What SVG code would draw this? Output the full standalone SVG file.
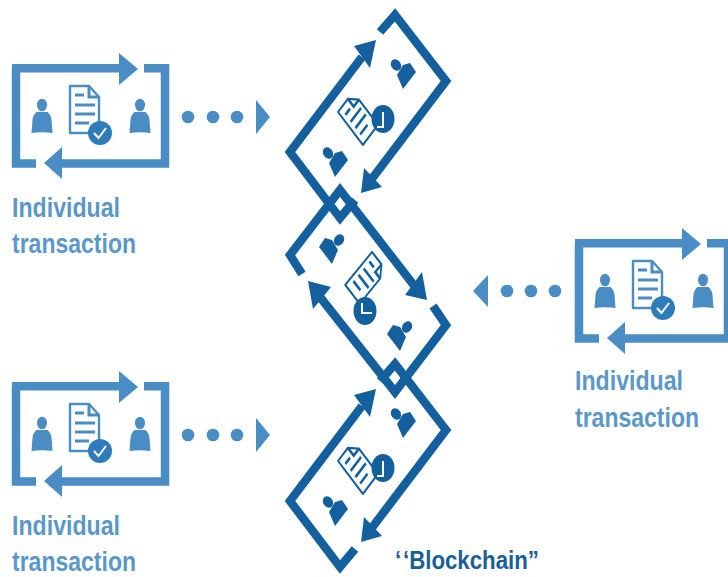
<svg xmlns="http://www.w3.org/2000/svg" width="728" height="577" viewBox="0 0 728 577">
<style>
.lf{fill:#4a8cc4}.df{fill:#14609f}
.ls{fill:none;stroke:#4a8cc4;stroke-width:8.5;stroke-linejoin:miter}
.ds{fill:none;stroke:#14609f;stroke-width:8.5;stroke-linejoin:miter}
.dl{fill:#fff;stroke-width:2.4;stroke-linejoin:round}
.ln{fill:none;stroke-width:3}
.lab{font-family:"Liberation Sans",Arial,sans-serif;font-weight:700;font-size:27px;fill:#5b97c9}
</style>
<defs>
<g id="person"><ellipse cx="0" cy="-28" rx="5" ry="6.300"/><path d="M-10.500,0 L-9.500,-13 Q-9,-18 -5.500,-21 H5.500 Q9,-18 9.500,-13 L10.500,0 Q0,-1.500 -10.500,0Z"/></g>
<g id="pt"><ellipse cx="0" cy="0" rx="4.800" ry="6" transform="rotate(-35)"/><path d="M1,10 L7,0 L14,-2 L20,7 L7,24Z"/></g>
<g id="doc"><path class="dl" d="M70,86 H89 L99,97 V133 H70Z"/><path class="ln" d="M89,86 V97 H99 M75,95 H84 M75,105 H95 M75,114 H95 M75,123 H89"/></g>
<g id="tx">
<path class="ls" d="M12,68.300 H125 M144,68.300 H165 V163.500 H55 M36,163.500 H16 V68.300"/>
<path class="lf" d="M119,53 L138,69 L119,85Z M62,147 L44,163 L62,179Z"/>
<g class="lf"><use href="#person" x="42" y="133"/><use href="#person" x="140" y="133"/></g>
<g stroke="#4a8cc4"><use href="#doc"/></g>
<circle cx="100" cy="133" r="12" fill="#2f7cba"/>
<path d="M94,133 L98.500,138 L106,128" fill="none" stroke="#fff" stroke-width="2"/>
</g>
<g id="blk">
<path class="ds" d="M380,32 L395,15 L446,81 L371,180 M362,57 L290,152 L340,218 L355,200"/>
<path class="df" d="M376,40 L354,46 L370,68Z M361,193 L364,168 L382,187Z"/>
<g class="df"><use href="#pt" x="396" y="65"/><use href="#pt" x="328" y="153"/></g>
<g stroke="#14609f"><use href="#doc" transform="matrix(.52 -.69 .53 .7 338 112) translate(-70 -86)"/></g>
<ellipse cx="383" cy="119" rx="11.500" ry="14" class="df"/>
<path d="M383,112 V127 H377" fill="none" stroke="#fff" stroke-width="2"/>
</g>
</defs>
<g id="connectors">
<g id="dots-top" class="lf"><circle cx="188" cy="117" r="6.300"/><circle cx="213" cy="117" r="6.300"/><circle cx="237" cy="117" r="6.300"/><path d="M256,100 L270,117 L256,134Z"/></g>
<g id="dots-bottom" class="lf"><circle cx="188" cy="435" r="6.300"/><circle cx="213" cy="435" r="6.300"/><circle cx="237" cy="435" r="6.300"/><path d="M256,418 L270,435 L256,452Z"/></g>
<g id="dots-right" class="lf"><circle cx="507" cy="291" r="6.300"/><circle cx="531" cy="291" r="6.300"/><circle cx="555" cy="291" r="6.300"/><path d="M488,275 L473,291 L488,307Z"/></g>
</g>
<g id="tx-top"><use href="#tx"/><text class="lab" x="12" y="217" textLength="108" lengthAdjust="spacingAndGlyphs">Individual</text><text class="lab" x="12" y="253" textLength="124" lengthAdjust="spacingAndGlyphs">transaction</text></g>
<g id="tx-bottom"><use href="#tx" y="318"/><text class="lab" x="12" y="535" textLength="108" lengthAdjust="spacingAndGlyphs">Individual</text><text class="lab" x="12" y="571" textLength="124" lengthAdjust="spacingAndGlyphs">transaction</text></g>
<g id="tx-right"><use href="#tx" x="563" y="175"/><text class="lab" x="575" y="390" textLength="108" lengthAdjust="spacingAndGlyphs">Individual</text><text class="lab" x="575" y="427" textLength="124" lengthAdjust="spacingAndGlyphs">transaction</text></g>
<g id="block-top"><use href="#blk"/></g>
<g id="block-middle">
<path class="ds" d="M302,274 L290,255 L340,190 L416,288 M433,306 L446,325 L395,392 L320,297"/>
<path class="df" d="M427,300 L405,295 L422,272Z M308,281 L313,309 L331,287Z"/>
<g class="df"><use href="#pt" transform="translate(339 240) scale(-1 1)"/><use href="#pt" transform="translate(407 327) scale(-1 1)"/></g>
<g stroke="#14609f"><use href="#doc" transform="matrix(.5 .65 -.57 .7 372 252) translate(-70 -86)"/></g>
<ellipse cx="365" cy="311" rx="11.500" ry="14" class="df"/>
<path d="M362,303 V313 H372" fill="none" stroke="#fff" stroke-width="2"/>
</g>
<g id="block-bottom"><use href="#blk" y="349"/></g>
<text transform="translate(395 569) scale(.89 1)" style="font-family:'Liberation Sans',Arial,sans-serif;font-weight:700;font-size:25px;fill:#1a5f96">‘<tspan dx="2">‘</tspan>Blockchain”</text>
</svg>
